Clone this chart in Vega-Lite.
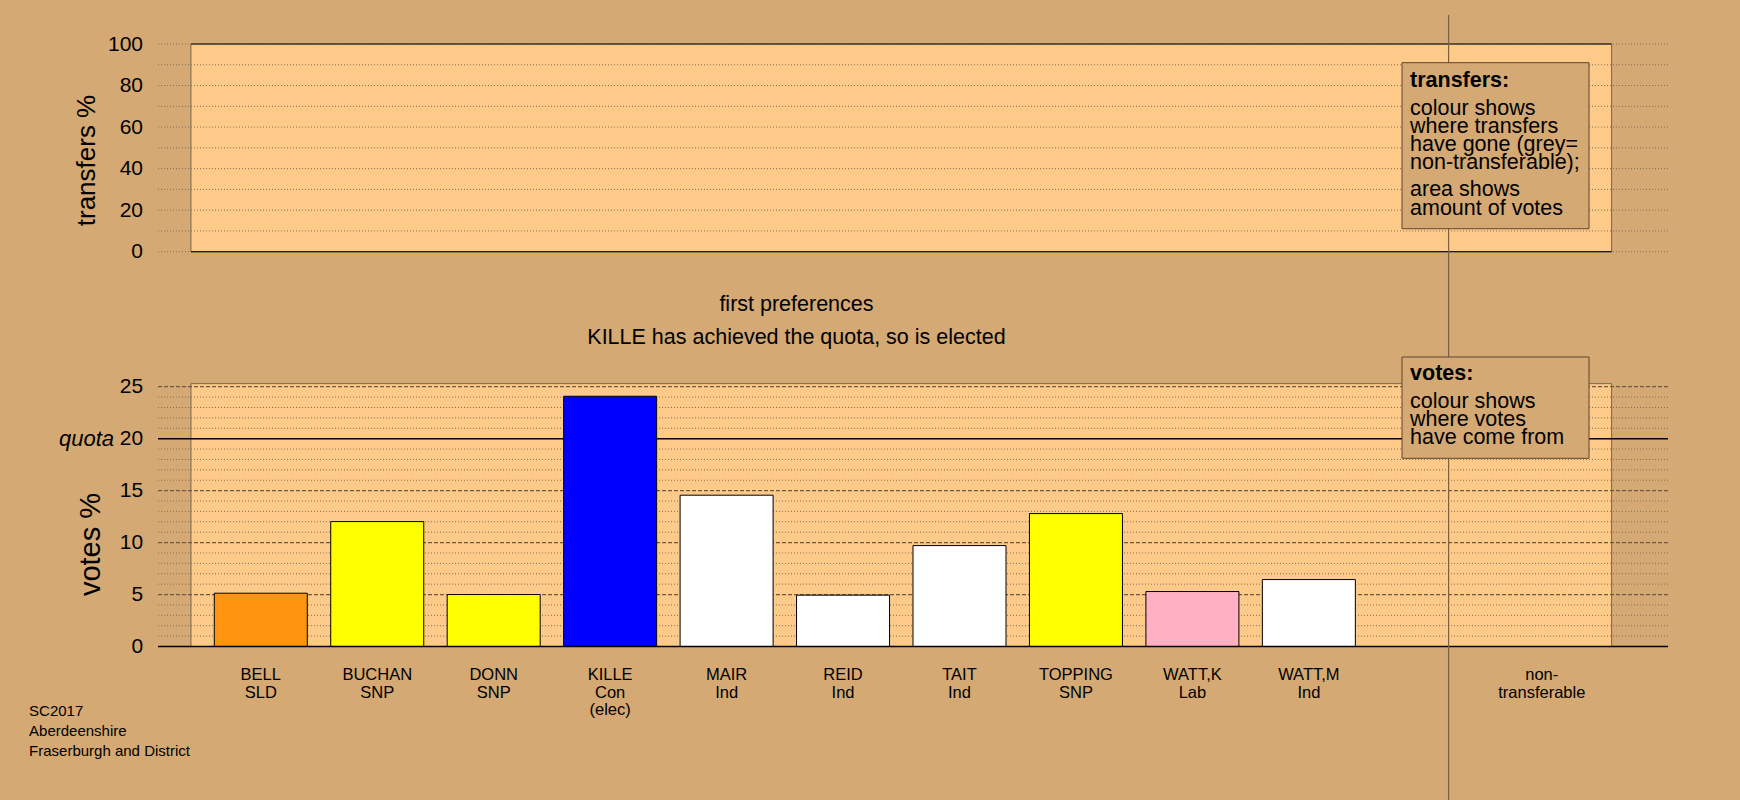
{
  "$schema": "https://vega.github.io/schema/vega-lite/v6.json",
  "background": "#D4A974",
  "padding": {"left": 29, "top": 14, "right": 72, "bottom": 0},
  "config": {
    "font": "Liberation Sans",
    "view": {"stroke": null},
    "axis": {"labelColor": "black", "titleColor": "black", "titleFontWeight": "normal", "grid": false, "domain": false, "ticks": false}
  },
  "datasets": {
    "candidates": [
      {"name": "BELL", "party": "SLD", "label": "BELL\nSLD", "votes": 5.13},
      {"name": "BUCHAN", "party": "SNP", "label": "BUCHAN\nSNP", "votes": 12.02},
      {"name": "DONN", "party": "SNP", "label": "DONN\nSNP", "votes": 5.0},
      {"name": "KILLE", "party": "Con", "label": "KILLE\nCon\n(elec)", "votes": 24.08},
      {"name": "MAIR", "party": "Ind", "label": "MAIR\nInd", "votes": 14.56},
      {"name": "REID", "party": "Ind", "label": "REID\nInd", "votes": 4.94},
      {"name": "TAIT", "party": "Ind", "label": "TAIT\nInd", "votes": 9.71},
      {"name": "TOPPING", "party": "SNP", "label": "TOPPING\nSNP", "votes": 12.79},
      {"name": "WATT,K", "party": "Lab", "label": "WATT,K\nLab", "votes": 5.29},
      {"name": "WATT,M", "party": "Ind", "label": "WATT,M\nInd", "votes": 6.44},
      {"name": "non-transferable", "party": "", "label": "non-\ntransferable", "votes": null}
    ],
    "gridT": [{"v": 0}, {"v": 10}, {"v": 20}, {"v": 30}, {"v": 40}, {"v": 50}, {"v": 60}, {"v": 70}, {"v": 80}, {"v": 90}, {"v": 100}],
    "gridB": [{"v": 1}, {"v": 2}, {"v": 3}, {"v": 4}, {"v": 5}, {"v": 6}, {"v": 7}, {"v": 8}, {"v": 9}, {"v": 10}, {"v": 11}, {"v": 12}, {"v": 13}, {"v": 14}, {"v": 15}, {"v": 16}, {"v": 17}, {"v": 18}, {"v": 19}, {"v": 20}, {"v": 21}, {"v": 22}, {"v": 23}, {"v": 24}, {"v": 25}]
  },
  "bounds": "flush",
  "spacing": 134.7,
  "vconcat": [
    {
      "width": 1510,
      "height": 207.7,
      "layer": [
        {
          "data": {"values": [{}]},
          "mark": {"type": "rect", "fill": "#FECA89", "stroke": "#7a6548", "strokeWidth": 1},
          "encoding": {
            "x": {"datum": 0.4, "type": "quantitative", "scale": {"domain": [0.1172, 13.0842], "nice": false, "zero": false}, "axis": null},
            "x2": {"datum": 12.6},
            "y": {"datum": 0, "type": "quantitative", "scale": {"domain": [0, 100], "nice": false}},
            "y2": {"datum": 100}
          }
        },
        {
          "data": {"name": "gridT"},
          "mark": {"type": "rule", "color": "#8a6f4e", "strokeDash": [1, 2], "strokeWidth": 1},
          "encoding": {
            "y": {"field": "v", "type": "quantitative", "scale": {"domain": [0, 100], "nice": false},
              "axis": {"values": [0, 20, 40, 60, 80, 100], "title": "transfers %", "labelFontSize": 21, "labelPadding": 15.5, "titleFontSize": 26, "titleX": -64, "titleY": 116, "titleBaseline": "alphabetic", "titleAlign": "center", "titleAngle": -90}}
          }
        },
        {
          "data": {"values": [{}]},
          "mark": {"type": "rule", "color": "#1a1a1a", "strokeWidth": 1.2},
          "encoding": {
            "x": {"datum": 0.4, "type": "quantitative", "scale": {"domain": [0.1172, 13.0842], "nice": false, "zero": false}, "axis": null},
            "x2": {"datum": 12.6},
            "y": {"datum": 0, "type": "quantitative", "scale": {"domain": [0, 100], "nice": false}}
          }
        },
        {
          "data": {"values": [{}]},
          "mark": {"type": "rule", "color": "#1a1a1a", "strokeWidth": 1.2},
          "encoding": {
            "x": {"datum": 0.4, "type": "quantitative", "scale": {"domain": [0.1172, 13.0842], "nice": false, "zero": false}, "axis": null},
            "x2": {"datum": 12.6},
            "y": {"datum": 100, "type": "quantitative", "scale": {"domain": [0, 100], "nice": false}}
          }
        },
        {
          "data": {"values": [{}]},
          "mark": {"type": "rule", "color": "#7a6142", "strokeWidth": 1.2},
          "encoding": {
            "x": {"datum": 11.2, "type": "quantitative", "scale": {"domain": [0.1172, 13.0842], "nice": false, "zero": false}, "axis": null},
            "y": {"datum": 114, "type": "quantitative", "scale": {"domain": [0, 100], "nice": false}},
            "y2": {"datum": -70}
          }
        },
        {
          "data": {"values": [{}]},
          "mark": {"type": "rect", "fill": "#D4A974", "stroke": "#5a4630", "strokeWidth": 1},
          "encoding": {
            "x": {"datum": 10.8, "type": "quantitative", "scale": {"domain": [0.1172, 13.0842], "nice": false, "zero": false}, "axis": null},
            "x2": {"datum": 12.406},
            "y": {"datum": 91.0, "type": "quantitative", "scale": {"domain": [0, 100], "nice": false}},
            "y2": {"datum": 11.07}
          }
        },
        {
          "data": {"values": [{}]},
          "mark": {"type": "text", "text": "transfers:", "fontWeight": "bold", "fontSize": 21.5, "align": "left", "baseline": "alphabetic", "color": "black"},
          "encoding": {
            "x": {"datum": 10.869, "type": "quantitative", "scale": {"domain": [0.1172, 13.0842], "nice": false, "zero": false}, "axis": null},
            "y": {"datum": 79.44, "type": "quantitative", "scale": {"domain": [0, 100], "nice": false}}
          }
        },
        {
          "data": {"values": [{}]},
          "mark": {"type": "text", "text": ["colour shows", "where transfers", "have gone (grey=", "non-transferable);"], "fontSize": 21.5, "lineHeight": 18.2, "align": "left", "baseline": "alphabetic", "color": "black"},
          "encoding": {
            "x": {"datum": 10.869, "type": "quantitative", "scale": {"domain": [0.1172, 13.0842], "nice": false, "zero": false}, "axis": null},
            "y": {"datum": 65.96, "type": "quantitative", "scale": {"domain": [0, 100], "nice": false}}
          }
        },
        {
          "data": {"values": [{}]},
          "mark": {"type": "text", "text": ["area shows", "amount of votes"], "fontSize": 21.5, "lineHeight": 18.2, "align": "left", "baseline": "alphabetic", "color": "black"},
          "encoding": {
            "x": {"datum": 10.869, "type": "quantitative", "scale": {"domain": [0.1172, 13.0842], "nice": false, "zero": false}, "axis": null},
            "y": {"datum": 26.62, "type": "quantitative", "scale": {"domain": [0, 100], "nice": false}}
          }
        }
      ]
    },
    {
      "width": 1510,
      "height": 259.8,
      "resolve": {"scale": {"x": "independent"}},
      "layer": [
        {
          "data": {"values": [{}]},
          "mark": {"type": "rect", "fill": "#FECA89", "stroke": "#7a6548", "strokeWidth": 1},
          "encoding": {
            "x": {"datum": 0.4, "type": "quantitative", "scale": {"domain": [0.1172, 13.0842], "nice": false, "zero": false}, "axis": null},
            "x2": {"datum": 12.6},
            "y": {"datum": 0, "type": "quantitative", "scale": {"domain": [0, 25], "nice": false}},
            "y2": {"datum": 25.29}
          }
        },
        {
          "data": {"name": "gridB"},
          "transform": [{"filter": "datum.v % 5 != 0"}],
          "mark": {"type": "rule", "color": "#8a6f4e", "strokeDash": [1, 2], "strokeWidth": 1},
          "encoding": {
            "y": {"field": "v", "type": "quantitative", "scale": {"domain": [0, 25], "nice": false}}
          }
        },
        {
          "data": {"name": "gridB"},
          "transform": [{"filter": "datum.v % 5 == 0 && datum.v != 20"}],
          "mark": {"type": "rule", "color": "#6f5a41", "strokeDash": [4, 2], "strokeWidth": 1.2},
          "encoding": {
            "y": {"field": "v", "type": "quantitative", "scale": {"domain": [0, 25], "nice": false}}
          }
        },
        {
          "data": {"values": [{}]},
          "mark": {"type": "rule", "color": "black", "strokeWidth": 1.5},
          "encoding": {
            "y": {"datum": 20, "type": "quantitative", "scale": {"domain": [0, 25], "nice": false}}
          }
        },
        {
          "data": {"name": "candidates"},
          "encoding": {
            "x": {"field": "name", "type": "nominal", "scale": {"domain": ["BELL", "BUCHAN", "DONN", "KILLE", "MAIR", "REID", "TAIT", "TOPPING", "WATT,K", "WATT,M", " ", "non-transferable"], "paddingInner": 0.2014, "paddingOuter": 0.584, "align": 0.4138}, "axis": null}
          },
          "layer": [
            {
              "mark": {"type": "bar", "stroke": "black", "strokeWidth": 1},
              "encoding": {
                "y": {"field": "votes", "type": "quantitative", "scale": {"domain": [0, 25], "nice": false},
                  "axis": {"values": [0, 5, 10, 15, 20, 25], "title": "votes %", "labelFontSize": 21, "labelPadding": 15.3, "titleFontSize": 29, "titleX": -59, "titleY": 157.3, "titleBaseline": "alphabetic", "titleAlign": "center", "titleAngle": -90}},
                "color": {"field": "party", "type": "nominal", "scale": {"domain": ["SLD", "SNP", "Con", "Ind", "Lab"], "range": ["#FF9410", "#FFFF00", "#0000FF", "#FFFFFF", "#FFB0C2"]}, "legend": null}
              }
            },
            {
              "mark": {"type": "text", "fontSize": 16.5, "lineHeight": 17.6, "lineBreak": "\n", "align": "center", "baseline": "alphabetic", "color": "black"},
              "encoding": {
                "y": {"datum": -3.224, "type": "quantitative", "scale": {"domain": [0, 25], "nice": false}},
                "text": {"field": "label"}
              }
            }
          ]
        },
        {
          "data": {"values": [{}]},
          "mark": {"type": "rule", "color": "black", "strokeWidth": 1.5},
          "encoding": {
            "y": {"datum": 0, "type": "quantitative", "scale": {"domain": [0, 25], "nice": false}}
          }
        },
        {
          "data": {"values": [{}]},
          "mark": {"type": "rule", "color": "#7a6142", "strokeWidth": 1.2},
          "encoding": {
            "x": {"datum": 11.2, "type": "quantitative", "scale": {"domain": [0.1172, 13.0842], "nice": false, "zero": false}, "axis": null},
            "y": {"datum": 25.29, "type": "quantitative", "scale": {"domain": [0, 25], "nice": false}},
            "y2": {"datum": -14.87}
          }
        },
        {
          "data": {"values": [{}]},
          "mark": {"type": "rect", "fill": "#D4A974", "stroke": "#5a4630", "strokeWidth": 1},
          "encoding": {
            "x": {"datum": 10.8, "type": "quantitative", "scale": {"domain": [0.1172, 13.0842], "nice": false, "zero": false}, "axis": null},
            "x2": {"datum": 12.406},
            "y": {"datum": 27.858, "type": "quantitative", "scale": {"domain": [0, 25], "nice": false}},
            "y2": {"datum": 18.11}
          }
        },
        {
          "data": {"values": [{}]},
          "mark": {"type": "text", "text": "votes:", "fontWeight": "bold", "fontSize": 21.5, "align": "left", "baseline": "alphabetic", "color": "black"},
          "encoding": {
            "x": {"datum": 10.869, "type": "quantitative", "scale": {"domain": [0.1172, 13.0842], "nice": false, "zero": false}, "axis": null},
            "y": {"datum": 25.616, "type": "quantitative", "scale": {"domain": [0, 25], "nice": false}}
          }
        },
        {
          "data": {"values": [{}]},
          "mark": {"type": "text", "text": ["colour shows", "where votes", "have come from"], "fontSize": 21.5, "lineHeight": 18.3, "align": "left", "baseline": "alphabetic", "color": "black"},
          "encoding": {
            "x": {"datum": 10.869, "type": "quantitative", "scale": {"domain": [0.1172, 13.0842], "nice": false, "zero": false}, "axis": null},
            "y": {"datum": 22.98, "type": "quantitative", "scale": {"domain": [0, 25], "nice": false}}
          }
        },
        {
          "data": {"values": [{}]},
          "mark": {"type": "text", "text": "quota", "fontStyle": "italic", "fontSize": 22, "align": "right", "baseline": "middle", "color": "black"},
          "encoding": {
            "x": {"datum": -0.2606, "type": "quantitative", "scale": {"domain": [0.1172, 13.0842], "nice": false, "zero": false}, "axis": null},
            "y": {"datum": 20, "type": "quantitative", "scale": {"domain": [0, 25], "nice": false}}
          }
        },
        {
          "data": {"values": [{}]},
          "mark": {"type": "text", "text": ["first preferences", "KILLE has achieved the quota, so is elected"], "fontSize": 21.5, "lineHeight": 33.3, "align": "center", "baseline": "alphabetic", "color": "black"},
          "encoding": {
            "x": {"datum": 5.6, "type": "quantitative", "scale": {"domain": [0.1172, 13.0842], "nice": false, "zero": false}, "axis": null},
            "y": {"datum": 32.28, "type": "quantitative", "scale": {"domain": [0, 25], "nice": false}}
          }
        },
        {
          "data": {"values": [{}]},
          "mark": {"type": "text", "text": ["SC2017", "Aberdeenshire", "Fraserburgh and District"], "fontSize": 15, "lineHeight": 20, "align": "left", "baseline": "alphabetic", "color": "black"},
          "encoding": {
            "x": {"datum": -0.99, "type": "quantitative", "scale": {"domain": [0.1172, 13.0842], "nice": false, "zero": false}, "axis": null},
            "y": {"datum": -6.688, "type": "quantitative", "scale": {"domain": [0, 25], "nice": false}}
          }
        }
      ]
    }
  ]
}
